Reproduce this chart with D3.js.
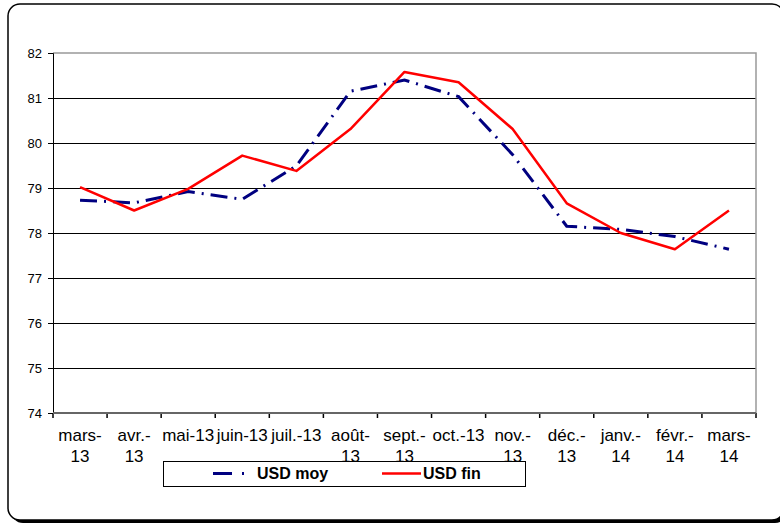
<!DOCTYPE html>
<html>
<head>
<meta charset="utf-8">
<script src="https://cdn.jsdelivr.net/npm/d3@7"></script>
<style>
  body { margin: 0; background: #fff; }
  svg { display: block; font-family: Arial, 'Liberation Sans', sans-serif; }
</style>
</head>
<body>
<svg width="780" height="526"></svg>
<script>
/* global d3 */
var svg = d3.select('svg')

// data
var months = ['mars-13', 'avr.-13', 'mai-13', 'juin-13', 'juil.-13', 'août-13', 'sept.-13',
  'oct.-13', 'nov.-13', 'déc.-13', 'janv.-14', 'févr.-14', 'mars-14']
// tick labels as Excel wraps them
var tickLabels = ['mars-\n13', 'avr.-\n13', 'mai-13', 'juin-13', 'juil.-13', 'août-\n13', 'sept.-\n13',
  'oct.-13', 'nov.-\n13', 'déc.-\n13', 'janv.-\n14', 'févr.-\n14', 'mars-\n14']
var usdMoy = [78.73, 78.67, 78.92, 78.75, 79.49, 81.15, 81.40, 81.03, 79.74, 78.15, 78.08, 77.92, 77.64]
var usdFin = [79.02, 78.50, 78.98, 79.72, 79.38, 80.31, 81.58, 81.35, 80.31, 78.66, 78.00, 77.64, 78.50]
var yTicks = [74, 75, 76, 77, 78, 79, 80, 81, 82]
var seriesNames = ['USD moy', 'USD fin']

let moyC = '#000080'
let finC = '#ff0000'

// plot area (don't call it "top", that's window.top)
var plotL = 53
var plotR = 756
var plotT = 53
var plotB = 413

// outer frame with shadow
svg.append('rect')
    .attr('x', 11).attr('y', 7)
    .attr('width', 776).attr('height', 516)
    .attr('rx', 12)
    .attr('fill', '#000')
svg.append('rect')
    .attr('x', 8).attr('y', 4)
    .attr('width', 776).attr('height', 516)
    .attr('rx', 12)
    .attr('fill', '#fff')
    .attr('stroke', '#000')
    .attr('stroke-width', 1.5)

var x = d3.scaleBand()
    .domain(months)
    .range([plotL, plotR])
    .paddingInner(0)
    .paddingOuter(0)

var y = d3.scaleLinear()
    .domain([74, 82])
    .range([plotB, plotT])

// gridlines
svg.append('g')
    .selectAll('line')
    .data(yTicks.slice(1, -1))
    .enter().append('line')
      .attr('x1', plotL).attr('x2', plotR)
      .attr('y1', d => Math.round(y(d)) + 0.5).attr('y2', d => Math.round(y(d)) + 0.5)
      .attr('stroke', '#000')
      .attr('stroke-width', 1)

// top and right border of plot area (grey)
svg.append('path')
    .attr('d', `M${plotL},${y(82)}H${plotR}V${plotB}`)
    .attr('fill', 'none')
    .attr('stroke', '#999')
    .attr('stroke-width', 1.5)

// y axis
var yAxis = svg.append('g')
    .attr('transform', `translate(${plotL},0)`)
    .call(d3.axisLeft(y).tickValues(yTicks).tickSize(5).tickPadding(6).tickFormat(d3.format('d')))
yAxis.select('.domain').attr('stroke', '#000')
yAxis.selectAll('.tick line').attr('stroke', '#000')
yAxis.selectAll('text')
    .attr('font-size', 13)
    .attr('fill', '#000')
    .style('font-family', 'Arial, "Liberation Sans", sans-serif')

// x axis: ticks at the category boundaries
var bounds = months.map(m => x(m)).concat([plotR])
svg.append('g')
    .selectAll('line')
    .data(bounds)
    .enter().append('line')
      .attr('x1', d => d).attr('x2', d => d)
      .attr('y1', plotB).attr('y2', plotB + 5)
      .attr('stroke', '#000')
      .attr('stroke-width', 1.5)
svg.append('line')
    .attr('x1', plotL).attr('x2', plotR)
    .attr('y1', plotB).attr('y2', plotB)
    .attr('stroke', '#666')
    .attr('stroke-width', 2)

// x labels
svg.append('g')
    .selectAll('text')
    .data(months)
    .enter().append('text')
      .attr('text-anchor', 'middle')
      .attr('font-size', 17)
      .attr('fill', '#000')
    .selectAll('tspan')
    .data((d, i) => tickLabels[i].split('\n').map(s => ({ m: d, s: s })))
    .enter().append('tspan')
      .attr('x', d => x(d.m) + x.bandwidth() / 2)
      .attr('y', (d, i) => 441 + i * 21)
      .text(d => d.s)

// lines
var line = d3.line()
    .x((d, i) => x(months[i]) + x.bandwidth() / 2)
    .y(d => y(d))

svg.append('path')
    .datum(usdMoy)
    .attr('d', line)
    .attr('fill', 'none')
    .attr('stroke', moyC)
    .attr('stroke-width', 3)
    .attr('stroke-dasharray', '17,7,2,7')

svg.append('path')
    .datum(usdFin)
    .attr('d', line)
    .attr('fill', 'none')
    .attr('stroke', finC)
    .attr('stroke-width', 2.5)
    .attr('stroke-linejoin', 'round')

// legend
var legend = svg.append('g')
legend.append('rect')
    .attr('x', 163.5).attr('y', 461.5)
    .attr('width', 362).attr('height', 25)
    .attr('fill', '#fff')
    .attr('stroke', '#000')
    .attr('stroke-width', 1)

legend.append('line')
    .attr('x1', 213).attr('x2', 252)
    .attr('y1', 473.5).attr('y2', 473.5)
    .attr('stroke', moyC)
    .attr('stroke-width', 3)
    .attr('stroke-dasharray', '19,10,2,20')
legend.append('text')
    .attr('x', 257).attr('y', 479)
    .attr('font-size', 16)
    .attr('font-weight', 'bold')
    .text(seriesNames[0])

legend.append('line')
    .attr('x1', 382).attr('x2', 421)
    .attr('y1', 473.5).attr('y2', 473.5)
    .attr('stroke', finC)
    .attr('stroke-width', 2.5)
legend.append('text')
    .attr('x', 423).attr('y', 479)
    .attr('font-size', 16)
    .attr('font-weight', 'bold')
    .text(seriesNames[1])
</script>
</body>
</html>
